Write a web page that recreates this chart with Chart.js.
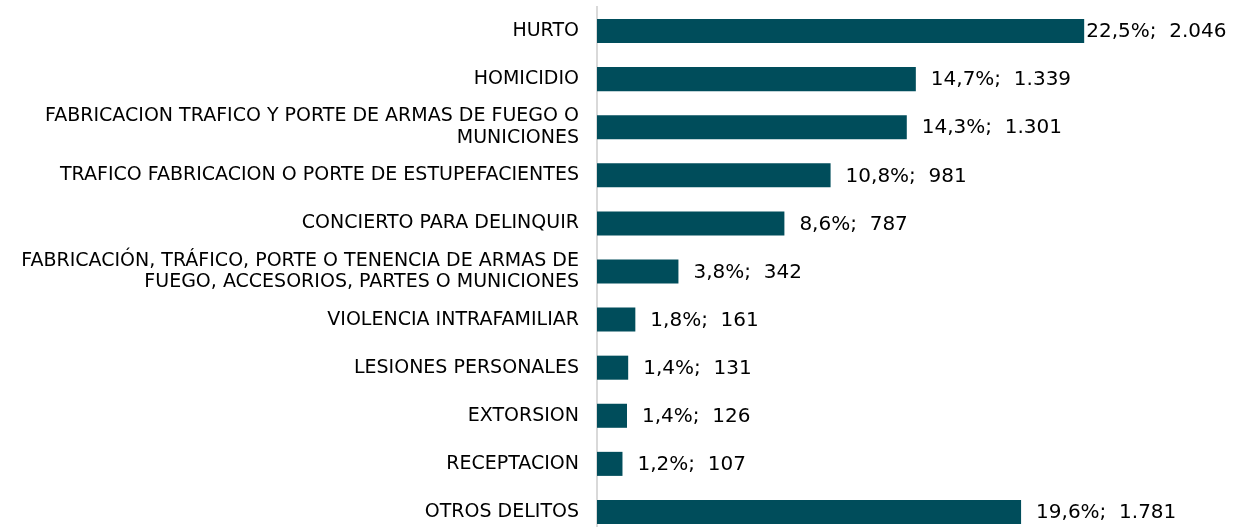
<!DOCTYPE html>
<html>
<head>
<meta charset="utf-8">
<script src="https://cdn.jsdelivr.net/npm/chart.js@4/dist/chart.umd.min.js"></script>
<style>
    html, body { margin: 0; padding: 0; background: #fff; overflow: hidden; }
    #wrap { width: 1248px; height: 545px; position: relative; }
</style>
</head>
<body>
<div id="wrap"><canvas id="delitosChart"></canvas></div>
<script>
    const categorias = [
        'HURTO',
        'HOMICIDIO',
        ['FABRICACION TRAFICO Y PORTE DE ARMAS DE FUEGO O', 'MUNICIONES'],
        'TRAFICO FABRICACION O PORTE DE ESTUPEFACIENTES',
        'CONCIERTO PARA DELINQUIR',
        ['FABRICACIÓN, TRÁFICO, PORTE O TENENCIA DE ARMAS DE', 'FUEGO, ACCESORIOS, PARTES O MUNICIONES'],
        'VIOLENCIA INTRAFAMILIAR',
        'LESIONES PERSONALES',
        'EXTORSION',
        'RECEPTACION',
        'OTROS DELITOS'
    ];
    const casos = [2046, 1339, 1301, 981, 787, 342, 161, 131, 126, 107, 1781];
    const porcentajes = ['22,5%', '14,7%', '14,3%', '10,8%', '8,6%', '3,8%', '1,8%', '1,4%', '1,4%', '1,2%', '19,6%'];

    const fuente = 'DejaVu Sans, Verdana, sans-serif';

    // etiquetas al final de cada barra: "xx,x%;  n.nnn"
    const etiquetasBarras = {
        id: 'etiquetasBarras',
        afterDatasetsDraw(chart) {
            const c = chart.ctx;
            const meta = chart.getDatasetMeta(0);
            c.save();
            c.font = '20px ' + fuente;
            c.fillStyle = '#000';
            c.textBaseline = 'middle';
            c.textAlign = 'left';
            meta.data.forEach((bar, i) => {
                const num = casos[i].toLocaleString('de-DE');
                // la primera etiqueta queda casi pegada a la barra
                const sep = i === 0 ? 2 : 15;
                c.fillText(porcentajes[i] + ';  ' + num, bar.x + sep, bar.y + 1);
            });
            c.restore();
        }
    };

    const ctx = document.getElementById('delitosChart').getContext('2d');
    new Chart(ctx, {
        type: 'bar',
        data: {
            labels: categorias,
            datasets: [{
                data: casos,
                backgroundColor: '#004d5b',
                barPercentage: 0.5,
                categoryPercentage: 1.0
            }]
        },
        options: {
            indexAxis: 'y',
            responsive: true,
            maintainAspectRatio: false,
            animation: false,
            layout: { padding: { top: 7, bottom: 9, right: 20, left: 0 } },
            plugins: {
                legend: { display: false },
                tooltip: { enabled: false }
            },
            scales: {
                x: { display: false, min: 0, max: 2650 },
                y: {
                    afterFit: function(scale) {
                        scale.width = 597;
                        scale.paddingTop = 0;
                        scale.paddingBottom = 0;
                    },
                    grid: { display: false, drawTicks: false },
                    border: { display: true, color: '#d9d9d9', width: 2 },
                    ticks: {
                        color: '#000',
                        padding: 18,
                        font: { family: fuente, size: 19, lineHeight: 1.15 }
                    }
                }
            }
        },
        plugins: [etiquetasBarras]
    });
</script>
</body>
</html>
